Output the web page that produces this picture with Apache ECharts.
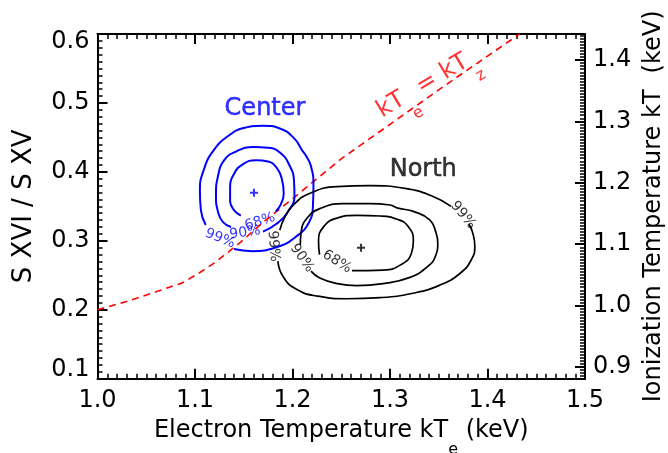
<!DOCTYPE html>
<html>
<head>
<meta charset="utf-8">
<script src="https://cdn.jsdelivr.net/npm/echarts@6/dist/echarts.min.js"></script>
<style>
html, body { margin: 0; padding: 0; background: #fff; }
#chart { width: 668px; height: 453px; }
</style>
</head>
<body>
<div id="chart"></div>
<script>
// ---- Axis ticks -------------------------------------------------------
const kTeTicks = [1.0, 1.1, 1.2, 1.3, 1.4, 1.5];          // electron temperature (keV)
const ratioTicks = [0.1, 0.2, 0.3, 0.4, 0.5, 0.6];        // S XVI / S XV line ratio
const kTzTicks = [0.9, 1.0, 1.1, 1.2, 1.3, 1.4];          // ionization temperature (keV)
const kTzRange = [0.881, 1.4423];                         // kTz at the bottom / top of the frame

// ---- kTe = kTz curve, as [kTe, ratio] ----------------------------------
const equalityLine = [
  [1.000, 0.200], [1.030, 0.212], [1.060, 0.226], [1.087, 0.239],
  [1.105, 0.254], [1.120, 0.268], [1.145, 0.296], [1.170, 0.327],
  [1.200, 0.361], [1.250, 0.419], [1.300, 0.469], [1.350, 0.519],
  [1.400, 0.568], [1.433, 0.600]
];

// ---- Center region: confidence contours, [kTe, ratio] -----------------
const center99 = [
  [1.140, 0.288], [1.1585, 0.285], [1.184, 0.291], [1.2026, 0.305], [1.217, 0.327],
  [1.221, 0.352], [1.2215, 0.381], [1.219, 0.408], [1.214, 0.423], [1.2097, 0.4316],
  [1.2015, 0.449], [1.187, 0.463], [1.170, 0.467], [1.151, 0.464], [1.134, 0.452],
  [1.1185, 0.430], [1.109, 0.403], [1.105, 0.374], [1.106, 0.345], [1.111, 0.323]
];
const center90 = [
  [1.1697, 0.3134], [1.184, 0.325], [1.1964, 0.3446], [1.202, 0.365], [1.2015, 0.388],
  [1.1974, 0.408], [1.188, 0.427], [1.175, 0.435], [1.1595, 0.436], [1.142, 0.4295],
  [1.130, 0.417], [1.1236, 0.394], [1.1215, 0.366], [1.1236, 0.342], [1.1287, 0.327],
  [1.137, 0.320]
];
const center68 = [
  [1.183, 0.343], [1.188, 0.353], [1.191, 0.369], [1.189, 0.390], [1.184, 0.4055],
  [1.175, 0.415], [1.1626, 0.417], [1.149, 0.411], [1.140, 0.397], [1.136, 0.3765],
  [1.136, 0.3576], [1.140, 0.3446], [1.147, 0.3366]
];
const centerBest = [1.1605, 0.3697];

// ---- North region: confidence contours, [kTe, ratio] ------------------
const north99a = [
  [1.185, 0.2705], [1.190, 0.249], [1.2036, 0.230], [1.226, 0.2197], [1.256, 0.216],
  [1.290, 0.2176], [1.3236, 0.224], [1.351, 0.2357], [1.372, 0.253], [1.3836, 0.273],
  [1.387, 0.292], [1.3846, 0.3126], [1.381, 0.324]
];
const north99b = [
  [1.3626, 0.350], [1.343, 0.365], [1.3154, 0.376], [1.2795, 0.380], [1.2456, 0.3787],
  [1.218, 0.369], [1.2015, 0.353], [1.192, 0.334], [1.187, 0.3155]
];
const north90 = [
  [1.219, 0.256], [1.228, 0.246], [1.2456, 0.238], [1.266, 0.235], [1.293, 0.238],
  [1.3205, 0.247], [1.338, 0.262], [1.3467, 0.278], [1.349, 0.297], [1.347, 0.3126],
  [1.341, 0.330], [1.3246, 0.3424], [1.308, 0.3475], [1.300, 0.352], [1.2795, 0.354],
  [1.252, 0.354], [1.228, 0.3467], [1.215, 0.333], [1.209, 0.314], [1.208, 0.294]
];
const north68 = [
  [1.261, 0.2567], [1.293, 0.2575], [1.312, 0.266], [1.322, 0.282], [1.324, 0.301],
  [1.3185, 0.321], [1.308, 0.331], [1.290, 0.336], [1.266, 0.337], [1.2456, 0.333],
  [1.232, 0.3206], [1.2267, 0.2996], [1.2277, 0.280]
];
const northBest = [1.2703, 0.2898];

// ---- Styling & annotation layout ---------------------------------------
const FONT = 'DejaVu Sans';
const BLUE = '#0000ff';
const RED = '#ff0000';

// Contour level labels: [text, kTe, ratio, rotation]
const centerLevelLabels = [
  ['68%', 1.1667, 0.3276, 18],
  ['90%', 1.1513, 0.3116, 8],
  ['99%', 1.1256, 0.3035, -22]
];
const northLevelLabels = [
  ['68%', 1.2456, 0.2698, -32],
  ['90%', 1.2097, 0.2749, -55],
  ['99%', 1.1805, 0.2923, -85],
  ['99%', 1.3749, 0.3373, -50]
];

const minorKTz = [];
for (let v = 0.885; v < kTzRange[1]; v += 0.005) {
  const r = Math.round(v * 1000) / 1000;
  if (Math.abs(r * 10 - Math.round(r * 10)) > 1e-6) minorKTz.push(r);
}

// slightly heavier strokes for the in-plot annotations
function heavy(color, size, extra) {
  return Object.assign({ fontFamily: FONT, fontSize: size, color: color,
                         textBorderColor: color, textBorderWidth: 0.5 }, extra || {});
}

const axisLineStyle = { color: '#000', width: 2 };
const majorTick = { show: true, inside: true, length: 10, lineStyle: { color: '#000', width: 2 } };
const minorTick = { show: true, splitNumber: 10, length: 5, lineStyle: { color: '#000', width: 1.5 } };
const tickFont = { fontFamily: FONT, fontSize: 24, color: '#000' };

function plainRich(color, pad) {
  return {
    m: { fontFamily: FONT, fontSize: 24, lineHeight: 28, verticalAlign: 'top', color: color },
    s: { fontFamily: FONT, fontSize: 16, lineHeight: 16, verticalAlign: 'top', padding: [pad, 0, 0, 0], color: color }
  };
}

function contour(data, color, width) {
  return {
    type: 'line', data: data, xAxisIndex: 0, yAxisIndex: 0,
    showSymbol: false, symbol: 'none', smooth: 0.5, silent: true,
    lineStyle: { color: color, width: width }
  };
}

function textMarks(items, color) {
  return {
    type: 'scatter', xAxisIndex: 0, yAxisIndex: 0, symbolSize: 0, silent: true,
    data: items.map(([t, x, y, rot]) => ({
      value: [x, y],
      label: { show: true, position: 'inside', formatter: t, rotate: rot,
               color: color, fontFamily: FONT, fontSize: 14 }
    }))
  };
}

const plusPath = 'path://M3,0h2v8h-2z M0,3h8v2h-8z';

const option = {
  animation: false,
  backgroundColor: '#fff',
  grid: { left: 97.5, right: 83, top: 34, bottom: 74.3, outerBoundsMode: 'none', containLabel: false },
  xAxis: [
    {
      type: 'value', min: kTeTicks[0], max: kTeTicks[kTeTicks.length - 1], interval: 0.1,
      position: 'bottom',
      axisLine: { onZero: false, lineStyle: axisLineStyle },
      axisTick: majorTick, minorTick: minorTick,
      splitLine: { show: false }, minorSplitLine: { show: false },
      axisLabel: Object.assign({ margin: 10, formatter: v => v.toFixed(1) }, tickFont),
      name: '{m|Electron Temperature kT}{s|e}{m| (keV)}',
      nameLocation: 'middle', nameGap: 40,
      nameTextStyle: { fontFamily: FONT, color: '#000', rich: plainRich('#000', 23) }
    },
    {
      type: 'value', min: kTeTicks[0], max: kTeTicks[kTeTicks.length - 1], interval: 0.1,
      position: 'top',
      axisLine: { onZero: false, lineStyle: axisLineStyle },
      axisTick: majorTick, minorTick: minorTick,
      splitLine: { show: false }, minorSplitLine: { show: false },
      axisLabel: { show: false }
    }
  ],
  yAxis: [
    {
      type: 'value', min: ratioTicks[0], max: ratioTicks[ratioTicks.length - 1], interval: 0.1,
      position: 'left',
      axisLine: { onZero: false, lineStyle: axisLineStyle },
      axisTick: majorTick, minorTick: minorTick,
      splitLine: { show: false }, minorSplitLine: { show: false },
      axisLabel: Object.assign({
        margin: 8,
        formatter: v => {
          const s = v.toFixed(1);
          if (Math.abs(v - ratioTicks[ratioTicks.length - 1]) < 1e-6) return '{t|' + s + '}';
          if (Math.abs(v - ratioTicks[0]) < 1e-6) return '{b|' + s + '}';
          return s;
        },
        rich: {
          t: { fontFamily: FONT, fontSize: 24, color: '#000', padding: [16, 0, 0, 0] },
          b: { fontFamily: FONT, fontSize: 24, color: '#000', padding: [0, 0, 18, 0] }
        }
      }, tickFont),
      name: 'S XVI / S XV', nameLocation: 'middle', nameRotate: 90, nameGap: 60,
      nameTextStyle: { fontFamily: FONT, fontSize: 26, color: '#000' }
    },
    {
      type: 'value', min: kTzRange[0], max: kTzRange[1], position: 'right',
      axisLine: { onZero: false, lineStyle: axisLineStyle },
      axisTick: Object.assign({}, majorTick, { customValues: kTzTicks }),
      splitLine: { show: false },
      axisLabel: Object.assign({ margin: 8, customValues: kTzTicks, formatter: v => v.toFixed(1) }, tickFont),
      name: '{m|Ionization Temperature kT}{s|z}{m| (keV)}',
      nameLocation: 'middle', nameRotate: 90, nameGap: 48,
      nameTextStyle: { fontFamily: FONT, color: '#000', rich: plainRich('#000', 23) }
    },
    {
      type: 'value', min: kTzRange[0], max: kTzRange[1], position: 'right',
      axisLine: { show: false },
      axisTick: { show: true, inside: true, length: 5, customValues: minorKTz, lineStyle: { color: '#000', width: 1.5 } },
      splitLine: { show: false },
      axisLabel: { show: false }
    }
  ],
  series: [
    {
      type: 'line', data: equalityLine, xAxisIndex: 0, yAxisIndex: 0,
      showSymbol: false, symbol: 'none', silent: true,
      lineStyle: { color: RED, width: 1.6, type: [7, 5] }
    },
    contour(center99, BLUE, 2),
    contour(center90, BLUE, 2),
    contour(center68, BLUE, 2),
    contour(north99a, '#000', 1.7),
    contour(north99b, '#000', 1.7),
    contour(north90, '#000', 1.7),
    contour(north68, '#000', 1.7),
    {
      type: 'scatter', xAxisIndex: 0, yAxisIndex: 0, silent: true,
      symbol: plusPath, symbolSize: 8,
      data: [
        { value: centerBest, itemStyle: { color: BLUE } },
        { value: northBest, itemStyle: { color: '#000' } }
      ]
    },
    textMarks(centerLevelLabels, BLUE),
    textMarks(northLevelLabels, '#000'),
    {
      type: 'scatter', xAxisIndex: 0, yAxisIndex: 0, symbolSize: 0, silent: true,
      data: [
        { value: [1.1718, 0.4922],
          label: Object.assign({ show: true, position: 'inside', formatter: 'Center' }, heavy(BLUE, 24)) },
        { value: [1.3341, 0.4026],
          label: Object.assign({ show: true, position: 'inside', formatter: 'North' }, heavy('#000', 24)) },
        { value: [1.3383, 0.5251],
          label: {
            show: true, position: 'inside', rotate: 31, color: RED, fontFamily: FONT,
            formatter: '{m|kT}{s|e}{m| = kT}{s|z}',
            rich: plainRich(RED, 25)
          } }
      ]
    }
  ]
};

const chart = echarts.init(document.getElementById('chart'), null, { renderer: 'canvas' });
chart.setOption(option);
</script>
</body>
</html>
